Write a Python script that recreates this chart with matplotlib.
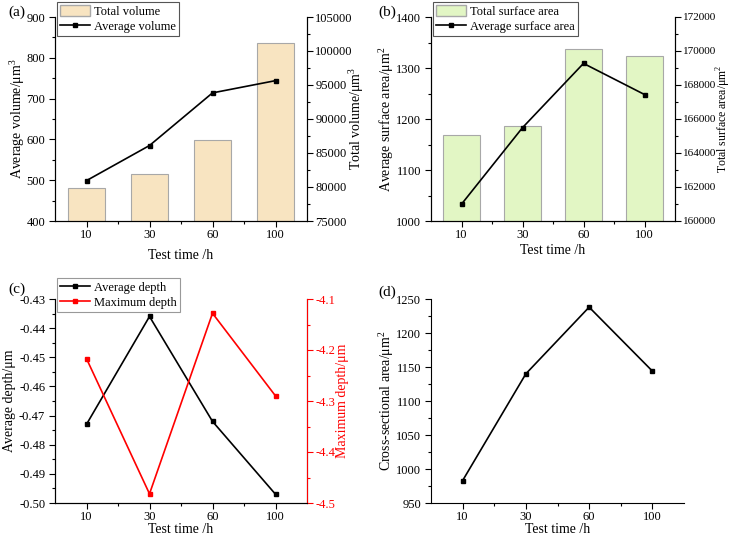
import matplotlib
matplotlib.use("Agg")
import matplotlib.pyplot as plt
from matplotlib.ticker import MultipleLocator, FixedLocator, FormatStrFormatter
from matplotlib.patches import Patch
from matplotlib.lines import Line2D

plt.rcParams["font.family"] = ["Liberation Serif", "DejaVu Serif"]
plt.rcParams["font.size"] = 9
plt.rcParams["axes.unicode_minus"] = False
plt.rcParams["mathtext.fontset"] = "custom"
plt.rcParams["mathtext.rm"] = "Liberation Serif"
plt.rcParams["xtick.direction"] = "out"
plt.rcParams["ytick.direction"] = "out"

# data
time_labels = ["10", "30", "60", "100"]
avg_volume = [499, 585, 714, 744]
total_volume = [79900, 81860, 86960, 101230]
avg_surface = [1033, 1183, 1309, 1248]
total_surface = [165080, 165610, 170140, 169730]
avg_depth = [-0.473, -0.436, -0.472, -0.497]
max_depth = [-4.217, -4.482, -4.128, -4.290]
cross_area = [983, 1140, 1238, 1144]

x = list(range(len(time_labels)))

fig = plt.figure(figsize=(7.33, 5.35), dpi=100)
W, H = 733.0, 535.0
LABEL_SIZE = 10


def make_ax(left, top, right, bottom):
    return fig.add_axes([left / W, 1 - bottom / H, (right - left) / W, (bottom - top) / H])


def style_x(ax, xlabel_y):
    ax.set_xlim(-0.5, 3.5)
    ax.set_xticks(x)
    ax.set_xticklabels(time_labels)
    ax.xaxis.set_minor_locator(FixedLocator([0.5, 1.5, 2.5]))
    ax.set_xlabel("Test time /h", fontsize=LABEL_SIZE, va="center")
    ax.xaxis.set_label_coords(0.5, xlabel_y)
    ax.spines["top"].set_visible(False)
    ax.tick_params(which="major", length=4, width=0.8, pad=3)
    ax.tick_params(axis="x", which="major", pad=1.5)
    ax.tick_params(which="minor", length=2, width=0.8)


def style_twin(ax2, color="black", size=9):
    ax2.spines["top"].set_visible(False)
    ax2.spines["right"].set_color(color)
    ax2.tick_params(which="major", length=4, width=0.8, colors=color, pad=2, labelsize=size)
    ax2.tick_params(which="minor", length=2, width=0.8, colors=color)


def ylab(ax, text, xpos, color="black", size=LABEL_SIZE):
    ax.set_ylabel(text, fontsize=size, color=color, va="center")
    ax.yaxis.set_label_coords(xpos, 0.5)


def legend(ax, handles, labels, ax_x, ax_y, edge="#555555"):
    leg = ax.legend(handles, labels, loc="upper left", bbox_to_anchor=(ax_x, ax_y),
                    borderaxespad=0, fancybox=False, framealpha=1, edgecolor=edge,
                    handlelength=2.4, handleheight=1.0, borderpad=0.25,
                    labelspacing=0.2, handletextpad=0.3, fontsize=9)
    leg.get_frame().set_linewidth(0.8)
    return leg


# (a) volume
ax1 = make_ax(55, 17, 307, 221)
ax1b = ax1.twinx()
ax1b.bar(x, total_volume, width=0.6, color="#F8E4C1", edgecolor="#A8A8A8", linewidth=0.8)
ax1.plot(x, avg_volume, "k-", marker="s", markersize=3.5, linewidth=1.2)
ax1.set_zorder(ax1b.get_zorder() + 1)
ax1.patch.set_visible(False)
ax1.set_ylim(400, 900)
ax1.yaxis.set_major_locator(MultipleLocator(100))
ax1.yaxis.set_minor_locator(MultipleLocator(50))
ax1b.set_ylim(75000, 105000)
ax1b.yaxis.set_major_locator(MultipleLocator(5000))
ax1b.yaxis.set_minor_locator(MultipleLocator(2500))
style_x(ax1, -0.167)
style_twin(ax1b)
ylab(ax1, "Average volume/μm$^3$", -0.151)
ylab(ax1b, "Total volume/μm$^3$", 1.195)
legend(ax1, [Patch(facecolor="#F8E4C1", edgecolor="#A8A8A8"),
             Line2D([], [], color="k", marker="s", markersize=3.5, linewidth=1.2)],
       ["Total volume", "Average volume"], 0.008, 1.074)
fig.text(8 / W, 1 - 12 / H, "(a)", fontsize=11, va="center")

# (b) surface area
ax2 = make_ax(431, 17, 675, 221)
ax2b = ax2.twinx()
ax2b.bar(x, total_surface, width=0.6, color="#E2F6C4", edgecolor="#A8A8A8", linewidth=0.8)
ax2.plot(x, avg_surface, "k-", marker="s", markersize=3.5, linewidth=1.2)
ax2.set_zorder(ax2b.get_zorder() + 1)
ax2.patch.set_visible(False)
ax2.set_ylim(1000, 1400)
ax2.yaxis.set_major_locator(MultipleLocator(100))
ax2.yaxis.set_minor_locator(MultipleLocator(50))
ax2b.set_ylim(160000, 172000)
ax2b.yaxis.set_major_locator(MultipleLocator(2000))
ax2b.yaxis.set_minor_locator(MultipleLocator(1000))
style_x(ax2, -0.145)
style_twin(ax2b, size=8)
ylab(ax2, "Average surface area/μm$^2$", -0.182)
ylab(ax2b, "Total surface area/μm$^2$", 1.2, size=8.5)
legend(ax2, [Patch(facecolor="#E2F6C4", edgecolor="#A8A8A8"),
             Line2D([], [], color="k", marker="s", markersize=3.5, linewidth=1.2)],
       ["Total surface area", "Average surface area"], 0.008, 1.074)
fig.text(378 / W, 1 - 12 / H, "(b)", fontsize=11, va="center")

# (c) depth
ax3 = make_ax(55, 299, 307, 503)
ax3b = ax3.twinx()
ax3.plot(x, avg_depth, "k-", marker="s", markersize=3.5, linewidth=1.2)
ax3b.plot(x, max_depth, "-", color="red", marker="s", markersize=3.5, linewidth=1.2)
ax3.set_ylim(-0.50, -0.43)
ax3.yaxis.set_major_locator(MultipleLocator(0.01))
ax3.yaxis.set_minor_locator(MultipleLocator(0.005))
ax3.yaxis.set_major_formatter(FormatStrFormatter("%.2f"))
ax3b.set_ylim(-4.5, -4.1)
ax3b.yaxis.set_major_locator(MultipleLocator(0.1))
ax3b.yaxis.set_minor_locator(MultipleLocator(0.05))
ax3b.yaxis.set_major_formatter(FormatStrFormatter("%.1f"))
style_x(ax3, -0.13)
style_twin(ax3b, "red")
ylab(ax3, "Average depth/μm", -0.179)
ylab(ax3b, "Maximum depth/μm", 1.139, color="red")
legend(ax3b, [Line2D([], [], color="k", marker="s", markersize=3.5, linewidth=1.2),
              Line2D([], [], color="red", marker="s", markersize=3.5, linewidth=1.2)],
       ["Average depth", "Maximum depth"], 0.008, 1.103, edge="#999999")
fig.text(8 / W, 1 - 289 / H, "(c)", fontsize=11, va="center")

# (d) cross-sectional area
ax4 = make_ax(431, 299, 684, 503)
ax4.plot(x, cross_area, "k-", marker="s", markersize=3.5, linewidth=1.2)
ax4.set_ylim(950, 1250)
ax4.yaxis.set_major_locator(MultipleLocator(50))
ax4.yaxis.set_minor_locator(MultipleLocator(25))
style_x(ax4, -0.13)
ax4.spines["right"].set_visible(False)
ylab(ax4, "Cross-sectional area/μm$^2$", -0.176)
fig.text(378 / W, 1 - 292 / H, "(d)", fontsize=11, va="center")

fig.savefig("out.png", dpi=100)
